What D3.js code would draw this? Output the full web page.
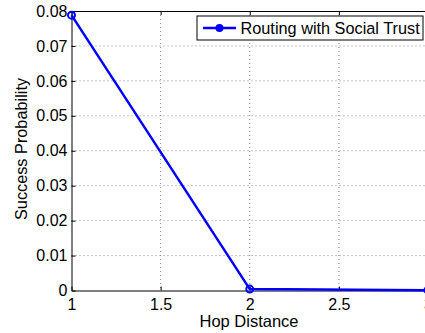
<!DOCTYPE html>
<html>
  <head>
    <title>Success Probability vs Hop Distance</title>
    <script src="https://d3js.org/d3.v7.min.js" charset="utf-8"></script>
    <style>
    body {
        margin: 0;
        background: white;
        font-family: "Liberation Sans", Arial, sans-serif;
    }
    .grid line {
        stroke: #888;
        stroke-width: 1;
        stroke-dasharray: 1,3;
    }
    </style>
  </head>

  <body>
    <script>
var hops = [1, 2, 3];
var success = [0.0788, 0.0004, 0.0001];
var xTicks = [1, 1.5, 2, 2.5, 3];
var yTicks = [0, 0.01, 0.02, 0.03, 0.04, 0.05, 0.06, 0.07, 0.08];
var seriesName = "Routing with Social Trust";

var width = 425;
var height = 333;
var plotLeft = 71.5, plotTop = 11, plotBottom = 290.5, plotRight = 428;

var svg = d3.select("body")
  .append("svg")
  .attr("width", width)
  .attr("height", height);

var x = d3.scaleLinear().domain([1, 3]).range([plotLeft, plotRight]);
var y = d3.scaleLinear().domain([0, 0.08]).range([plotBottom, plotTop]);

// grid
var grid = svg.append("g").attr("class", "grid");
grid.selectAll(".gx")
  .data(xTicks.slice(1, -1))
  .enter()
  .append("line")
  .attr("x1", d => x(d)).attr("x2", d => x(d))
  .attr("y1", plotTop).attr("y2", plotBottom);
grid.selectAll(".gy")
  .data(yTicks.slice(1, -1))
  .enter()
  .append("line")
  .attr("x1", plotLeft).attr("x2", plotRight)
  .attr("y1", d => y(d)).attr("y2", d => y(d));

// axes (MATLAB style: inward ticks, box)
var fmtY = d => d === 0 ? "0" : d3.format(".2f")(d);
var fmtX = d => String(d);

svg.append("g")
  .attr("transform", "translate(0," + plotBottom + ")")
  .call(d3.axisBottom(x).tickValues(xTicks).tickFormat(fmtX).tickSizeInner(-4).tickSizeOuter(0).tickPadding(8))
  .call(g => g.select(".domain").attr("stroke", "#000"))
  .call(g => g.selectAll("text").attr("font-size", "16px").attr("font-family", "Liberation Sans, Arial, sans-serif").attr("fill", "#000"));

svg.append("g")
  .attr("transform", "translate(0," + plotTop + ")")
  .call(d3.axisTop(x).tickValues(xTicks).tickFormat("").tickSizeInner(-4).tickSizeOuter(0))
  .call(g => g.select(".domain").attr("stroke", "#000"));

svg.append("g")
  .attr("transform", "translate(" + plotLeft + ",0)")
  .call(d3.axisLeft(y).tickValues(yTicks).tickFormat(fmtY).tickSizeInner(-4).tickSizeOuter(0).tickPadding(4))
  .call(g => g.select(".domain").attr("stroke", "#000"))
  .call(g => g.selectAll("text").attr("font-size", "16px").attr("font-family", "Liberation Sans, Arial, sans-serif").attr("fill", "#000"));

// line + markers
var pts = hops.map((h, i) => [h, success[i]]);
var line = d3.line().x(d => x(d[0])).y(d => y(d[1]));

svg.append("path")
  .datum(pts)
  .attr("fill", "none")
  .attr("stroke", "#0000ff")
  .attr("stroke-width", 2.5)
  .attr("d", line);

svg.selectAll(".pt")
  .data(pts)
  .enter()
  .append("circle")
  .attr("cx", d => x(d[0]))
  .attr("cy", d => y(d[1]))
  .attr("r", 3.5)
  .attr("fill", "none")
  .attr("stroke", "#0000ff")
  .attr("stroke-width", 2);

// axis labels
svg.append("text")
  .attr("x", 249)
  .attr("y", 327)
  .attr("text-anchor", "middle")
  .attr("font-size", "16.5px")
  .text("Hop Distance");

svg.append("text")
  .attr("transform", "translate(27,149) rotate(-90)")
  .attr("text-anchor", "middle")
  .attr("font-size", "16.3px")
  .text("Success Probability");

// legend
var lg = svg.append("g");
lg.append("rect")
  .attr("x", 197).attr("y", 16)
  .attr("width", 226).attr("height", 24)
  .attr("fill", "white")
  .attr("stroke", "#000")
  .attr("stroke-width", 1);
lg.append("line")
  .attr("x1", 203).attr("x2", 236)
  .attr("y1", 28).attr("y2", 28)
  .attr("stroke", "#0000ff")
  .attr("stroke-width", 2.5);
lg.append("circle")
  .attr("cx", 219.5).attr("cy", 28).attr("r", 3)
  .attr("fill", "#0000ff")
  .attr("stroke", "#0000ff")
  .attr("stroke-width", 2);
lg.append("text")
  .attr("x", 240.5).attr("y", 34)
  .attr("font-size", "16.3px")
  .text(seriesName);
    </script>
  </body>
</html>
